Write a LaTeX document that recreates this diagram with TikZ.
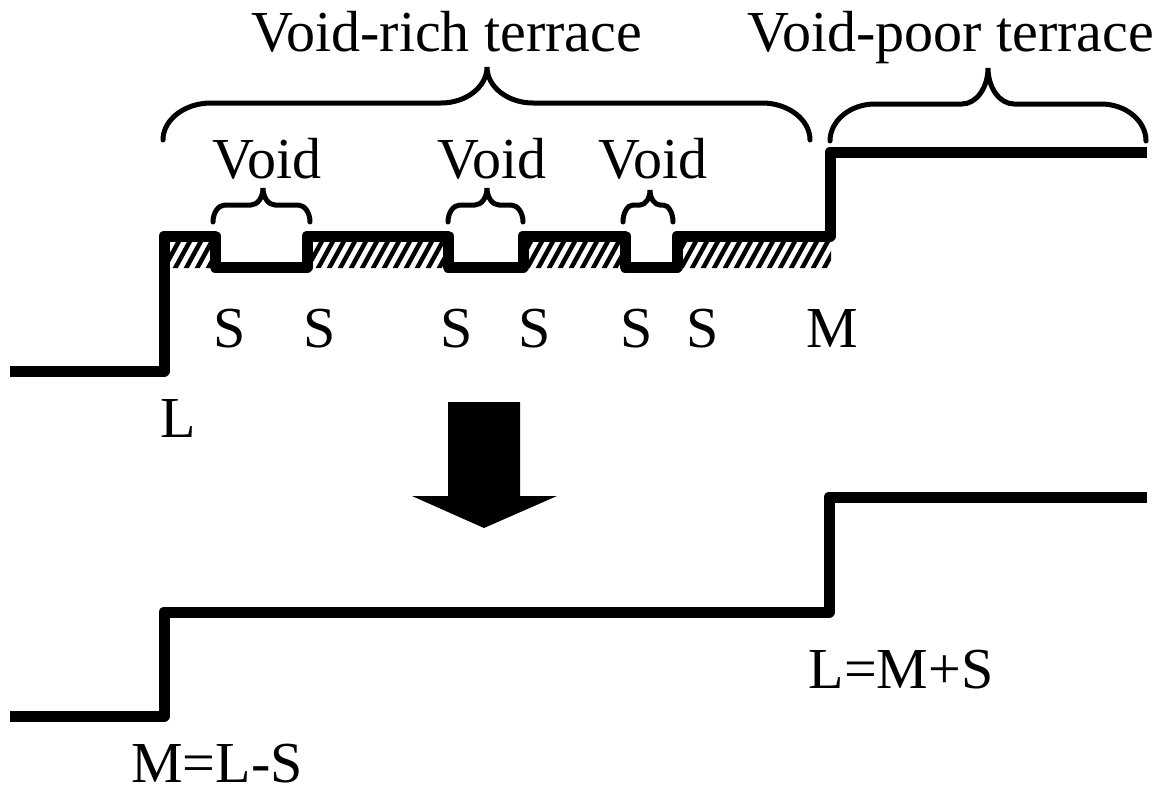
\documentclass[tikz,border=0pt]{standalone}
\usepackage{fontspec}
\setmainfont{Liberation Serif}
\begin{document}
\begin{tikzpicture}[x=1pt,y=-1pt,
  profile/.style={line width=11, line join=round},
  bracestyle/.style={line width=5, line cap=round},
  lbl/.style={anchor=base, inner sep=0pt, font=\fontsize{58}{60}\selectfont},
  hatchline/.style={line width=4.5}]
\useasboundingbox (0,0) rectangle (1167,792);
% #1 x-left, #2 x-right, #3 x-tip, #4 y-end, #5 y-flat, #6 y-tip, #7 end radius, #8 middle radius
\newcommand\drawbrace[8]{%
  \draw[bracestyle] (#1,#4) .. controls (#1,{#4-0.55*(#4-#5)}) and ({#1+0.45*#7},#5) .. ({#1+#7},#5)
    -- ({#3-#8},#5) .. controls ({#3-0.45*#8},#5) and (#3,{#6+0.55*(#5-#6)}) .. (#3,#6)
    .. controls (#3,{#6+0.55*(#5-#6)}) and ({#3+0.45*#8},#5) .. ({#3+#8},#5)
    -- ({#2-#7},#5) .. controls ({#2-0.45*#7},#5) and (#2,{#4-0.55*(#4-#5)}) .. (#2,#4);}
% hatch
\begin{scope}
  \clip (165,236) rectangle (215,268)
        (307,236) rectangle (448,268)
        (523,236) rectangle (625,268)
        (677,236) rectangle (831,268);
  \foreach \x in {140,151,...,850} \draw[hatchline] (\x,272) -- ++(22,-40);
\end{scope}
% top profile
\draw[profile] (10,371) -- (164,371) -- (164,236) -- (215,236) -- (215,267)
  -- (307,267) -- (307,236) -- (448,236) -- (448,267) -- (523,267) -- (523,236)
  -- (625,236) -- (625,267) -- (677,267) -- (677,236) -- (830,236) -- (830,152)
  -- (1147,152);
% bottom profile
\draw[profile] (10,716) -- (164,716) -- (164,612) -- (829,612) -- (829,497) -- (1147,497);
% arrow
\fill (448,402) -- (520,402) -- (520,496) -- (557,496) -- (484,528) -- (412,496) -- (448,496) -- cycle;
% braces
\drawbrace{163}{810}{487}{140}{103}{67}{48}{46}
\drawbrace{830}{1146}{988}{141}{104}{68}{45}{26}
\drawbrace{213}{310}{263}{222}{205}{188}{12}{12}
\drawbrace{448}{523}{487}{222}{205}{188}{12}{12}
\drawbrace{623}{673}{650}{222}{205}{190}{10}{10}
% labels
\node[lbl] (vrich) at (447,52) {Void-rich terrace};
\node[lbl] (vpoor) at (951,52) {Void-poor terrace};
\node[lbl] (v1) at (267,178) {Void};
\node[lbl] (v2) at (492,178) {Void};
\node[lbl] (v3) at (653,178) {Void};
\node[lbl] (s1) at (230,347) {S};
\node[lbl] (s2) at (320,347) {S};
\node[lbl] (s3) at (457,347) {S};
\node[lbl] (s4) at (535,347) {S};
\node[lbl] (s5) at (637,347) {S};
\node[lbl] (s6) at (703,347) {S};
\node[lbl] (m) at (832,347) {M};
\node[lbl] (l) at (178,437) {L};
\node[lbl] (mls) at (217,782) {M=L-S};
\node[lbl] (lms) at (901,688) {L=M+S};
\end{tikzpicture}
\end{document}
